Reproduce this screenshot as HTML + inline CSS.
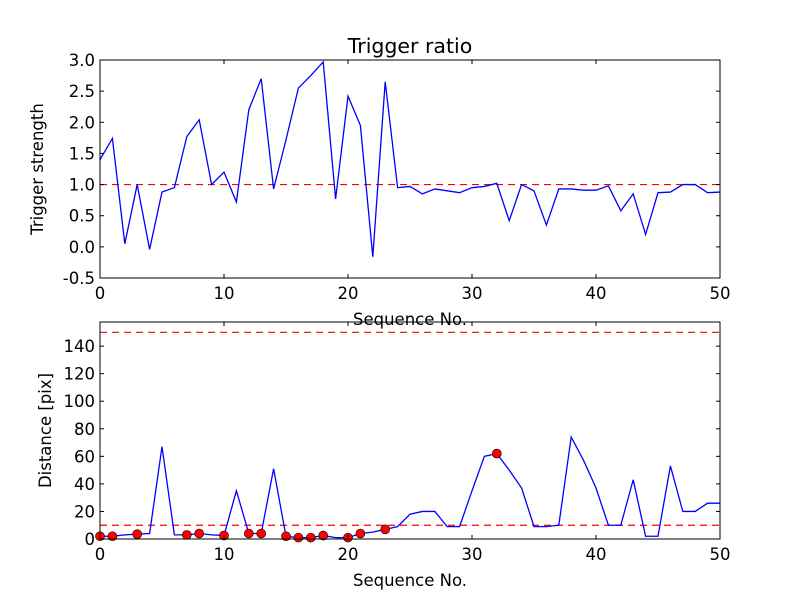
<!DOCTYPE html>
<html><head><meta charset="utf-8"><style>
body{margin:0;background:#fff;}
svg text{font-family:"DejaVu Sans","Liberation Sans",sans-serif;fill:#000;}
</style></head><body>
<svg id="c" width="800" height="600" xmlns="http://www.w3.org/2000/svg"></svg>
<script>
const seqX = Array.from({length:51},(_,i)=>i);
const ratioValues=[1.4,1.74,0.05,1.0,-0.04,0.88,0.95,1.77,2.04,1.0,1.2,0.72,2.2,2.7,0.93,1.72,2.55,2.75,2.97,0.77,2.42,1.95,-0.16,2.65,0.95,0.97,0.85,0.93,0.9,0.87,0.95,0.97,1.02,0.42,1.0,0.9,0.35,0.93,0.93,0.91,0.91,0.98,0.58,0.85,0.2,0.87,0.88,1.0,1.0,0.87,0.88];
const distValues=[2,2,3,3.5,4,67,3,3,4,3,2.5,35,4,4,51,2,1,1,2.5,1,1,4,5,7,9,18,20,20,9,9,35,60,62,50,37,9,9,10,74,57,37,10,10,43,2,2,53,20,20,26,26];
const markerIdx=[0,1,3,7,8,10,12,13,15,16,17,18,20,21,23,32];
const ratioThreshold=1.0;
const distThresholds=[10,150];
const xTicks=[0,10,20,30,40,50];
const topTicks=[-0.5,0,0.5,1.0,1.5,2.0,2.5,3.0];
const botTicks=[0,20,40,60,80,100,120,140];
const NS="http://www.w3.org/2000/svg";
const svg=document.getElementById('c');
function mk(tag,attrs,parent){const e=document.createElementNS(NS,tag);for(const k in attrs)e.setAttribute(k,attrs[k]);(parent||svg).appendChild(e);return e;}
const L=100,R=720,FS=16.5;
const sx=v=>L+(v-0)/(50-0)*(R-L);
function panel(name,top,bot,ymin,ymax,ticks,fmt,vals,hlines,ylabel,title,ylx){
  const sy=v=>bot-(v-ymin)/(ymax-ymin)*(bot-top);
  const g=mk('g',{});
  
  
  const clipId=name+'-clip';
  const cp=mk('clipPath',{id:clipId},g);mk('rect',{x:L,y:top,width:R-L,height:bot-top},cp);
  hlines.forEach(h=>{const l=mk('line',{x1:L,x2:R,y1:sy(h),y2:sy(h),stroke:'#ff0000','stroke-dasharray':'7,5','stroke-width':1.2},g);
    });
  const d=vals.map((v,i)=>(i?'L':'M')+sx(seqX[i]).toFixed(2)+','+sy(v).toFixed(2)).join('');
  const p=mk('path',{d:d,fill:'none',stroke:'#0000ff','stroke-width':1.3,'clip-path':'url(#'+clipId+')'},g);
  
  if(name==='distance-panel'){markerIdx.forEach(i=>{const c=mk('circle',{cx:sx(seqX[i]),cy:sy(vals[i]),r:4.5,fill:'#ff0000',stroke:'#000','stroke-width':0.6},g);
    });}
  mk('rect',{x:L,y:top,width:R-L,height:bot-top,fill:'none',stroke:'#000','stroke-width':1},g);
  xTicks.forEach(t=>{const x=sx(t);mk('line',{x1:x,x2:x,y1:bot,y2:bot-4,stroke:'#000'},g);mk('line',{x1:x,x2:x,y1:top,y2:top+4,stroke:'#000'},g);
    const tx=mk('text',{x:x,y:bot+21,'text-anchor':'middle','font-size':FS},g);tx.textContent=t;
    });
  ticks.forEach(t=>{const y=sy(t);mk('line',{x1:L,x2:L+4,y1:y,y2:y,stroke:'#000'},g);mk('line',{x1:R,x2:R-4,y1:y,y2:y,stroke:'#000'},g);
    const tx=mk('text',{x:L-5,y:y+6,'text-anchor':'end','font-size':FS},g);tx.textContent=fmt(t);
    });
  const xl=mk('text',{x:(L+R)/2,y:bot+47,'text-anchor':'middle','font-size':FS},g);xl.textContent='Sequence No.';
  
  const yl=mk('text',{x:0,y:0,'text-anchor':'middle','font-size':FS,transform:'translate('+ylx+','+((top+bot)/2)+') rotate(-90)'},g);yl.textContent=ylabel;
  
  if(title){const tt=mk('text',{x:(L+R)/2,y:top-7,'text-anchor':'middle','font-size':20.5},g);tt.textContent=title;
    }
}
panel('ratio-panel',60,278,-0.5,3.0,topTicks,t=>t.toFixed(1),ratioValues,[ratioThreshold],'Trigger strength','Trigger ratio',43);
panel('distance-panel',322,539,0,157.5,botTicks,t=>String(t),distValues,distThresholds,'Distance [pix]',null,51);
</script>
</body></html>
